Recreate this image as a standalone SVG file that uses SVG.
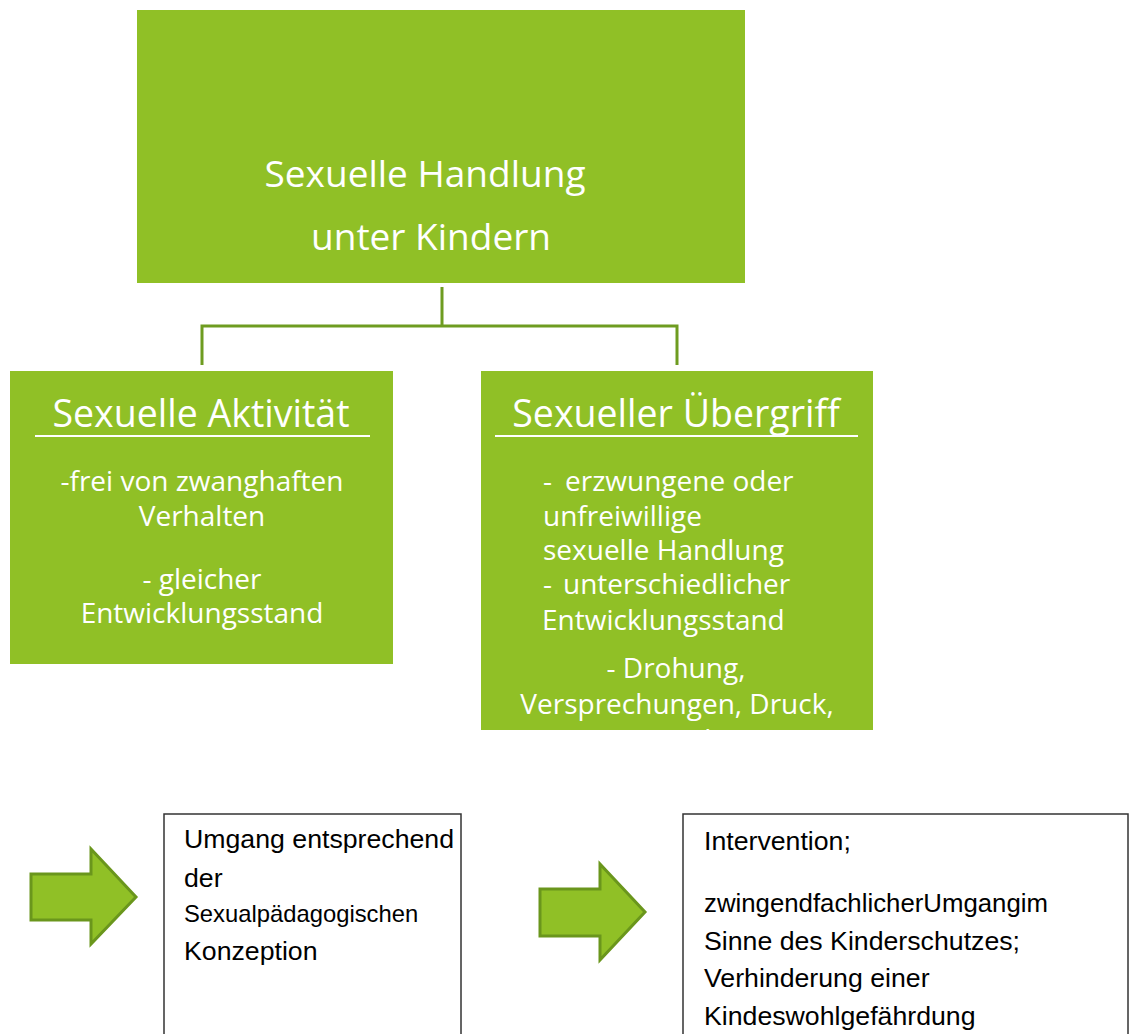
<svg xmlns="http://www.w3.org/2000/svg" width="1136" height="1034" viewBox="0 0 1136 1034">
<style>
.g{fill:#90c026}
.wt{font-family:"Open Sans","Noto Sans",sans-serif;fill:#ffffff}
.ttl{font-size:37.5px}
.bd{font-size:28px}
.bt{font-family:"Liberation Sans",Arial,sans-serif;fill:#000000;font-size:26.7px}
.conn{stroke:#6e9c20;stroke-width:3;fill:none}
.arr{fill:#90c026;stroke:#6a961c;stroke-width:3}
.ul{stroke:#ffffff;stroke-width:2}
.wb{fill:#ffffff;stroke:#333333;stroke-width:1.5}
</style>
<defs>
<clipPath id="clipR"><rect x="481" y="371" width="392" height="359"/></clipPath>
</defs>
<rect width="1136" height="1034" fill="#ffffff"/>
<g id="connectors">
<path class="conn" d="M442,287 V326 M202,365 V326 H677 V365"/>
</g>
<g id="root">
<rect class="g" x="137" y="10" width="608" height="273"/>
<text class="wt ttl" x="425" y="187" text-anchor="middle" style="font-size:37px">Sexuelle Handlung</text>
<text class="wt ttl" x="431" y="250" text-anchor="middle" style="font-size:37px">unter Kindern</text>
</g>
<g id="aktivitaet">
<rect class="g" x="10" y="371" width="383" height="293"/>
<text class="wt ttl" x="201" y="427" text-anchor="middle">Sexuelle Aktivität</text>
<line class="ul" x1="35" y1="436" x2="370" y2="436"/>
<text class="wt bd" x="202" y="491" text-anchor="middle">-frei von zwanghaften</text>
<text class="wt bd" x="202" y="526" text-anchor="middle">Verhalten</text>
<text class="wt bd" x="202" y="589" text-anchor="middle">- gleicher</text>
<text class="wt bd" x="202" y="623" text-anchor="middle">Entwicklungsstand</text>
</g>
<g id="uebergriff">
<rect class="g" x="481" y="371" width="392" height="359"/>
<text class="wt ttl" x="676" y="427" text-anchor="middle">Sexueller Übergriff</text>
<line class="ul" x1="495" y1="436" x2="858" y2="436"/>
<text class="wt bd" x="543" y="491">-</text>
<text class="wt bd" x="565" y="491">erzwungene oder</text>
<text class="wt bd" x="543" y="526">unfreiwillige</text>
<text class="wt bd" x="543" y="560">sexuelle Handlung</text>
<text class="wt bd" x="543" y="594">-</text>
<text class="wt bd" x="563" y="594">unterschiedlicher</text>
<text class="wt bd" x="542" y="630">Entwicklungsstand</text>
<text class="wt bd" x="676" y="678" text-anchor="middle">- Drohung,</text>
<text class="wt bd" x="677" y="714" text-anchor="middle">Versprechungen, Druck,</text>
<text class="wt bd" x="676" y="750" text-anchor="middle" clip-path="url(#clipR)">Gewalt</text>
</g>
<g id="arrow1">
<polygon class="arr" points="31,874 91,874 91,849 136,897 91,944 91,920 31,920"/>
</g>
<g id="umgang">
<rect class="wb" x="164" y="814" width="297" height="240"/>
<text class="bt" x="184" y="848">Umgang entsprechend</text>
<text class="bt" x="184" y="887">der</text>
<text class="bt" x="184" y="922" style="font-size:23.8px">Sexualpädagogischen</text>
<text class="bt" x="184" y="960">Konzeption</text>
</g>
<g id="arrow2">
<polygon class="arr" points="540,889 600,889 600,864 645,912 600,960 600,936 540,936"/>
</g>
<g id="intervention">
<rect class="wb" x="683" y="814" width="445" height="240"/>
<text class="bt" x="704" y="850">Intervention;</text>
<text class="bt" x="704" y="912" textLength="344" lengthAdjust="spacingAndGlyphs">zwingendfachlicherUmgangim</text>
<text class="bt" x="704" y="950">Sinne des Kinderschutzes;</text>
<text class="bt" x="704" y="987">Verhinderung einer</text>
<text class="bt" x="704" y="1025">Kindeswohlgefährdung</text>
</g>
</svg>
